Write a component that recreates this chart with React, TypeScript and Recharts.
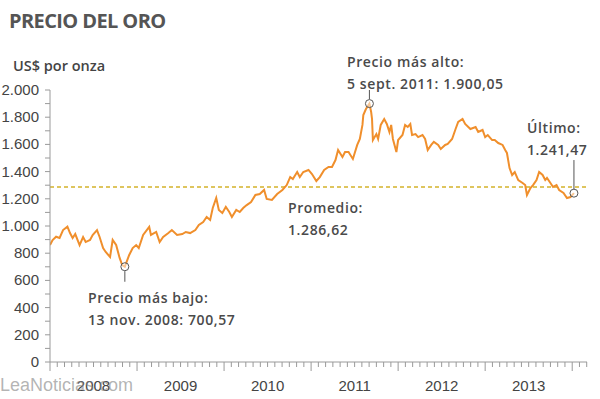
import React from 'react';
import { LineChart, Line, XAxis, YAxis, ReferenceLine, ReferenceDot } from 'recharts';

// fecha en años decimales
const fechas = [
  2008.0, 2008.03, 2008.07, 2008.11, 2008.15, 2008.2, 2008.23, 2008.26, 2008.29, 2008.34,
  2008.38, 2008.41, 2008.46, 2008.49, 2008.54, 2008.57, 2008.61, 2008.64, 2008.69, 2008.72,
  2008.76, 2008.8, 2008.83, 2008.86, 2008.91, 2008.95, 2008.99, 2009.02, 2009.07, 2009.14,
  2009.16, 2009.22, 2009.26, 2009.3, 2009.36, 2009.4, 2009.46, 2009.52, 2009.56, 2009.61,
  2009.67, 2009.71, 2009.76, 2009.8, 2009.84, 2009.87, 2009.91, 2009.94, 2009.98, 2010.02,
  2010.06, 2010.09, 2010.14, 2010.18, 2010.22, 2010.26, 2010.31, 2010.36, 2010.41, 2010.46,
  2010.49, 2010.55, 2010.61, 2010.67, 2010.72, 2010.76, 2010.79, 2010.84, 2010.87, 2010.91,
  2010.97, 2011.01, 2011.06, 2011.1, 2011.15, 2011.2, 2011.24, 2011.28, 2011.31, 2011.36,
  2011.39, 2011.43, 2011.48, 2011.53, 2011.56, 2011.59, 2011.6, 2011.63, 2011.67, 2011.69,
  2011.7, 2011.71, 2011.75, 2011.77, 2011.8, 2011.84, 2011.87, 2011.9, 2011.92, 2011.94,
  2011.98, 2012.0, 2012.05, 2012.08, 2012.11, 2012.14, 2012.16, 2012.2, 2012.23, 2012.28,
  2012.31, 2012.34, 2012.38, 2012.41, 2012.46, 2012.49, 2012.54, 2012.57, 2012.62, 2012.66,
  2012.69, 2012.74, 2012.77, 2012.83, 2012.89, 2012.92, 2012.97, 2013.0, 2013.03, 2013.08,
  2013.11, 2013.15, 2013.2, 2013.23, 2013.25, 2013.28, 2013.31, 2013.34, 2013.38, 2013.43,
  2013.46, 2013.48, 2013.52, 2013.55, 2013.59, 2013.62, 2013.66, 2013.69, 2013.71, 2013.75,
  2013.78, 2013.82, 2013.85, 2013.9, 2013.94, 2013.98, 2014.02,
];

const precios = [
  860, 897, 921, 912, 970, 995, 948, 912, 941, 860,
  919, 882, 897, 934, 970, 919, 838, 809, 772, 897,
  860, 765, 713, 700.57, 787, 838, 860, 838, 934, 993,
  934, 956, 882, 919, 948, 970, 934, 941, 956, 948,
  970, 1007, 1029, 1066, 1044, 1132, 1206, 1118, 1096, 1140,
  1103, 1066, 1118, 1103, 1132, 1154, 1176, 1228, 1235, 1265,
  1199, 1191, 1235, 1265, 1301, 1360, 1345, 1397, 1360, 1397,
  1412, 1382, 1331, 1360, 1412, 1434, 1434, 1485, 1559, 1507,
  1544, 1544, 1493, 1596, 1640, 1743, 1816, 1860, 1900.05, 1838,
  1787, 1632, 1676, 1640, 1743, 1787, 1750, 1691, 1743, 1640,
  1544, 1632, 1669, 1743, 1728, 1750, 1669, 1676, 1654, 1669,
  1640, 1559, 1596, 1618, 1596, 1566, 1596, 1603, 1640, 1713,
  1765, 1787, 1750, 1713, 1728, 1691, 1706, 1654, 1669, 1632,
  1632, 1610, 1596, 1559, 1537, 1426, 1375, 1397, 1338, 1316,
  1301, 1228, 1279, 1301, 1338, 1397, 1375, 1338, 1353, 1316,
  1287, 1301, 1265, 1243, 1206, 1213, 1241.47,
];

const etiquetasAnio = ['2008', '2009', '2010', '2011', '2012', '2013'];
const yTicks = [0, 100, 200, 300, 400, 500, 600, 700, 800, 900, 1000, 1100, 1200, 1300, 1400, 1500, 1600, 1700, 1800, 1900, 2000];

const promedio = 1286.62;
const maximo = { t: 2011.67, v: 1900.05 };
const minimo = { t: 2008.86, v: 700.57 };
const ultimo = { t: 2014.02, v: 1241.47 };

const data = fechas.map((t, i) => ({ t, precio: precios[i] }));
const monthTicks = Array.from({ length: 75 }, (_, i) => 2008 + i / 12);

const AXIS = '#9a9a9a';
const TEXT = '#444';

const fmt = (v: number) =>
  v >= 1000 ? `${Math.floor(v / 1000)}.${String(v % 1000).padStart(3, '0')}` : String(v);

const YTick = (props: any) => {
  const { x, y, payload } = props;
  const v = payload.value;
  return (
    <g>
      <line x1={x - 5} x2={x} y1={y} y2={y} stroke={AXIS} />
      {v % 200 === 0 && (
        <text x={x - 11} y={y} dy={5} textAnchor="end" fontSize={15} fill={TEXT} fontFamily="Liberation Sans, Arial, sans-serif">
          {fmt(v)}
        </text>
      )}
    </g>
  );
};

const XTick = (props: any) => {
  const { x, y, payload } = props;
  const m = Math.round((payload.value - 2008) * 12);
  const len = m % 12 === 0 ? 9 : 5;
  const label = m % 12 === 6 ? etiquetasAnio[Math.floor(m / 12)] : null;
  return (
    <g>
      <line x1={x} x2={x} y1={y} y2={y + len} stroke={AXIS} />
      {label && (
        <text x={x} y={y + 29} textAnchor="middle" fontSize={15} fill={TEXT} fontFamily="Liberation Sans, Arial, sans-serif">
          {label}
        </text>
      )}
    </g>
  );
};

const note: React.CSSProperties = {
  position: 'absolute',
  fontFamily: '"Open Sans", sans-serif',
  fontWeight: 600,
  fontSize: 14,
  lineHeight: '22px',
  letterSpacing: 0.6,
  color: '#4a4a4a',
  whiteSpace: 'nowrap',
};

export default function App() {
  return (
    <div style={{ position: 'absolute', left: 0, top: 0, width: 600, height: 399, background: '#fff', overflow: 'hidden' }}>
      <div style={{ position: 'absolute', left: 9, top: 7, fontFamily: '"Open Sans", sans-serif', fontWeight: 700, fontSize: 20, letterSpacing: -0.6, color: '#555' }}>
        PRECIO DEL ORO
      </div>
      <div style={{ position: 'absolute', left: 13, top: 56, fontFamily: '"Open Sans", sans-serif', fontWeight: 600, fontSize: 14.5, color: TEXT }}>
        US$ por onza
      </div>
      <LineChart width={600} height={399} data={data} margin={{ top: 90, right: 13, bottom: 0, left: 0 }}>
        <XAxis
          dataKey="t"
          type="number"
          domain={[2008, 2014.17]}
          ticks={monthTicks}
          interval={0}
          tickSize={0}
          tickMargin={0}
          tickLine={false}
          tick={<XTick />}
          height={37}
          stroke={AXIS}
          allowDataOverflow
        />
        <YAxis
          type="number"
          domain={[0, 2000]}
          ticks={yTicks}
          interval={0}
          tickSize={0}
          tickMargin={0}
          tickLine={false}
          tick={<YTick />}
          width={50}
          stroke={AXIS}
        />
        <ReferenceLine y={promedio} stroke="#d3b22a" strokeWidth={1.5} strokeDasharray="4 3" />
        <Line type="linear" dataKey="precio" stroke="#f08f2c" strokeWidth={2} dot={false} isAnimationActive={false} />
        <ReferenceLine segment={[{ x: maximo.t, y: 1932 }, { x: maximo.t, y: 2000 }]} stroke="#555" />
        <ReferenceLine segment={[{ x: minimo.t, y: 668 }, { x: minimo.t, y: 590 }]} stroke="#555" />
        <ReferenceLine segment={[{ x: ultimo.t, y: 1272 }, { x: ultimo.t, y: 1485 }]} stroke="#555" />
        <ReferenceDot x={maximo.t} y={maximo.v} r={4} fill="#fff" fillOpacity={0.5} stroke="#555" />
        <ReferenceDot x={minimo.t} y={minimo.v} r={4} fill="#fff" fillOpacity={0.5} stroke="#555" />
        <ReferenceDot x={ultimo.t} y={ultimo.v} r={4} fill="#fff" fillOpacity={0.5} stroke="#555" />
      </LineChart>
      <div style={{ ...note, left: 347, top: 51 }}>
        Precio más alto:<br />5 sept. 2011: 1.900,05
      </div>
      <div style={{ ...note, left: 288, top: 197 }}>
        Promedio:<br />1.286,62
      </div>
      <div style={{ ...note, left: 88, top: 287 }}>
        Precio más bajo:<br />13 nov. 2008: 700,57
      </div>
      <div style={{ ...note, left: 527, top: 117 }}>
        Último:<br />1.241,47
      </div>
      <div style={{ position: 'absolute', left: 0, top: 375, fontFamily: 'Liberation Sans, Arial, sans-serif', fontSize: 18, color: 'rgba(130,130,130,0.6)' }}>
        LeaNoticias.com
      </div>
    </div>
  );
}
